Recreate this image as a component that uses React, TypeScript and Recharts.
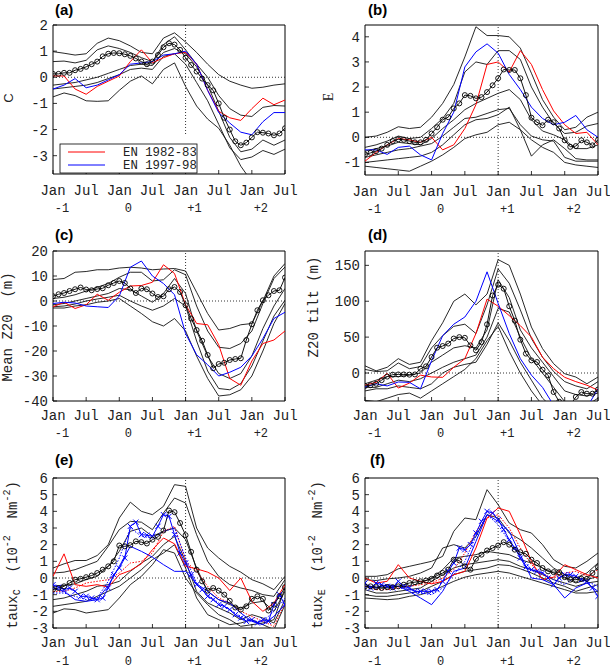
import React from "react";
import { LineChart, Line, XAxis, YAxis, ReferenceLine, ReferenceArea } from "recharts";

const MONO = "'Liberation Mono', 'DejaVu Sans Mono', monospace";
const SERIF = "'Liberation Serif', serif";
const SANS = "'Liberation Sans', Arial, sans-serif";

// x axis: months from Jan of year -1 (0) to Jul of year +2 (42)
const MONTHS = [0, 6, 12, 18, 24, 30, 36, 42];
const MONTH_LABELS = ["Jan", "Jul", "Jan", "Jul", "Jan", "Jul", "Jan", "Jul"];
const YEAR_LABELS = ["-1", "0", "+1", "+2"];

// ---------- (a) C ----------
// mean: monthly, others: every 2 months
const aMean = [0.13, 0.13, 0.17, 0.17, 0.27, 0.32, 0.4, 0.5, 0.6, 0.8, 0.9, 0.93, 0.92, 0.88, 0.82, 0.72, 0.6, 0.5, 0.6, 0.85, 1.15, 1.3, 1.25, 1.05, 0.75, 0.47, 0.22, -0.05, -0.3, -0.5, -1.0, -1.55, -2.0, -2.45, -2.6, -2.5, -2.3, -2.1, -2.12, -2.15, -2.22, -2.15, -1.95];
const aRed = [0.05, 0.05, -0.45, -0.65, -0.35, -0.15, 0.05, 0.6, 1.05, 0.55, 0.75, 0.9, 0.95, 0.5, -0.5, -1.3, -1.55, -1.65, -1.2, -0.8, -1.05, -0.87];
const aBlue = [-0.45, -0.3, -0.05, -0.4, -0.3, -0.1, 0.1, 0.5, 0.55, 0.6, 0.85, 0.9, 1.0, 0.5, -0.5, -1.35, -1.75, -2.1, -2.2, -1.7, -1.35, -1.35];
const aEnv = [
  [0.98, 0.92, 0.85, 0.9, 1.3, 1.5, 1.4, 1.2, 0.95, 0.9, 1.5, 1.7, 1.35, 0.95, 0.5, 0.1, -0.15, -0.3, -0.42, -0.38, -0.3, -0.25],
  [0.6, 0.62, 0.55, 0.65, 1.05, 1.2, 1.1, 0.95, 0.75, 0.6, 1.25, 1.55, 1.05, 0.5, 0.0, -0.7, -1.2, -1.45, -1.5, -1.15, -1.08, -1.1],
  [-0.3, -0.25, -0.2, -0.1, 0.0, 0.15, 0.3, 0.45, 0.5, 0.45, 0.95, 1.1, 0.9, 0.4, -0.3, -1.3, -2.3, -2.85, -2.75, -2.4, -2.6, -2.4],
  [-0.45, -0.4, -0.35, -0.3, -0.2, -0.05, 0.1, 0.3, 0.35, 0.3, 0.8, 0.9, 0.5, -0.2, -0.9, -1.8, -2.7, -3.15, -3.05, -2.8, -2.95, -2.75],
  [-0.75, -0.6, -0.7, -0.9, -0.92, -0.9, -0.5, -0.15, 0.05, -0.25, 0.3, 0.55, -0.35, -1.1, -1.6, -1.95, -2.6, -3.4, -4.0, -4.0, -3.9, -3.7],
];

// ---------- (b) E ----------
const bMean = [-0.68, -0.62, -0.55, -0.45, -0.3, -0.15, -0.08, -0.1, -0.15, -0.2, -0.2, -0.1, 0.15, 0.4, 0.7, 0.8, 1.15, 1.35, 1.68, 1.65, 1.55, 1.6, 1.8, 2.07, 2.35, 2.7, 2.68, 2.68, 2.35, 1.68, 0.78, 0.6, 0.48, 0.7, 0.6, 0.35, -0.12, -0.38, -0.35, -0.12, -0.2, -0.32, -0.1];
const bRed = [-0.95, -0.6, -0.3, -0.05, -0.1, -0.2, 0.0, -0.5, -0.3, 0.35, 1.3, 2.9, 3.0, 2.6, 3.45, 2.9, 1.9, 1.05, 0.5, 0.15, 0.2, -0.3];
const bBlue = [-0.5, -0.5, -0.68, -0.4, -0.35, -0.7, -0.9, 0.15, 1.0, 2.8, 3.4, 3.72, 3.35, 2.5, 1.9, 1.2, 0.75, 0.5, 0.6, 0.87, 0.3, 0.0];
const bEnv = [
  [0.0, 0.05, 0.2, 0.42, 0.35, 0.4, 0.8, 1.35, 2.1, 3.2, 4.4, 4.05, 4.05, 4.0, 3.55, 2.55, 1.5, 0.8, 0.3, 0.4, 0.8, 1.0],
  [-0.4, -0.3, -0.15, 0.05, -0.05, 0.0, 0.35, 0.75, 1.35, 2.6, 3.0, 2.9, 3.45, 3.45, 3.1, 2.0, 1.2, 0.55, 0.15, 0.2, 0.45, 0.55],
  [-0.55, -0.45, -0.35, -0.2, -0.25, -0.3, -0.05, 0.35, 0.7, 1.1, 1.35, 1.55, 1.75, 1.9, 1.5, 0.7, 0.25, 0.1, -0.1, -0.45, -0.45, -0.3],
  [-0.8, -0.7, -0.6, -0.5, -0.45, -0.35, -0.25, 0.05, 0.4, 0.75, 0.8, 0.95, 1.1, 1.15, 0.5, 0.05, -0.1, -0.15, -0.8, -0.95, -0.95, -0.95],
  [-1.0, -0.95, -0.9, -0.85, -0.8, -0.75, -0.6, -0.3, 0.1, 0.5, 0.7, 0.75, 0.9, 1.2, 0.3, -0.75, -0.3, -0.1, -0.45, -0.85, -0.9, -0.9],
  [-1.15, -1.2, -1.25, -1.3, -1.35, -1.15, -0.95, -0.7, -0.4, -0.05, 0.1, 0.2, 0.5, 0.6, 0.3, -0.1, -0.4, -0.6, -1.0, -1.1, -1.15, -1.2],
];

// ---------- (c) Mean Z20 ----------
const cMean = [1.9, 2.7, 3.2, 4.0, 4.7, 5.4, 4.6, 4.3, 4.8, 5.1, 6.3, 7.2, 8.0, 7.2, 5.0, 3.2, 5.0, 4.7, 3.0, 1.6, 1.9, 4.7, 5.6, 3.6, -1.7, -7.0, -11.6, -15.9, -21.6, -26.9, -25.2, -24.7, -23.6, -23.2, -22.9, -15.6, -9.3, -3.7, 0.3, 2.3, 4.0, 4.3, 9.4];
const cRed = [-2.3, -0.5, -3.0, -1.5, 2.7, 0.3, 3.5, 6.0, 6.2, 7.5, 14.5, 11.0, -1.5, -9.0, -9.5, -17.5, -31, -33.7, -24, -17, -15.6, -12];
const cBlue = [-1.0, -0.5, -0.8, -2.0, -2.3, -2.6, 2.0, 13.5, 16.0, 10.0, 7.0, 2.5, -13, -21.5, -25.5, -30, -28.5, -26.5, -22, -15, -7, -4.5];
const cEnv = [
  [8.6, 9.0, 11.5, 11.8, 12.5, 12.5, 13.2, 13.5, 13.2, 12.5, 12.8, 13.0, 12.0, 3.5, -5, -11.6, -11, -9.5, -9, 0, 10, 15],
  [1.0, 1.5, 2.5, 4.0, 5.5, 7.0, 9.5, 11.5, 11.5, 8.0, 8.5, 12.5, 10.5, -2, -12, -18.5, -19, -17, -12, -1, 9, 13.6],
  [-1.5, -1, 0, 1, 2, 3, 5, 4.5, 2, -0.5, 3, 9, 3, -12, -22, -29, -31, -29, -22, -11, -2, 5],
  [-2.3, -2, -1.2, 0, 0.8, 1.5, 2.3, 0, -2, -3.7, -2, 1, -2, -16, -28, -35, -35.5, -33, -26, -16, -6, 0.3],
  [-2.8, -2.8, -2, -1.5, -0.5, 0, 1, -2, -5, -8.3, -10, -7, -12, -22, -31, -38, -37.5, -35.5, -30, -20, -9, -1],
];

// ---------- (d) Z20 tilt ----------
const dMean = [-18, -17, -15, -10, -5, -2.3, -2, -2, -2.3, -2, 6, 9.3, 22.3, 35.3, 37.6, 41, 48, 50, 49, 38.5, 31.6, 43, 67.8, 108, 123, 117.5, 93, 73, 46.4, 27, 17.6, 15.3, 4.6, -3.3, -26.5, -40, -45, -45, -33.4, -26.5, -28.8, -28.8, -23];
const dRed = [-17, -13, -0.5, -21, -14, -3, -5.5, -6, 8, 20, 55, 103, 93, 80, 66, 50, 22, 6, -6, -12, -17, -24];
const dBlue = [-19.5, -15, -18, -12.5, -13, -22, 17, 52, 68, 78, 100, 141, 97, 55, 20, -3, -20, -45, -60, -60, -48, -22];
const dEnv = [
  [10, 3, 8, 20, 12, 15, 45, 70, 100, 110, 95, 110, 158, 150, 110, 64, 34, 13, -1, -5.6, -15, -5.6],
  [5, 2, 3, 14, 6, 9, 35, 52, 65, 68, 55, 95, 145, 125, 88, 48, 22, 2, -12, -18, -22, -12],
  [-15, -10, -5, -5, -3, 0, 15, 25, 35, 38, 35, 60, 130, 105, 60, 35, 15, -5, -25, -30, -32, -28],
  [-20, -20, -15, -10, -12, -8, 0, 8, 15, 20, 25, 50, 90, 85, 50, 20, 0, -20, -40, -45, -45, -35],
  [-25, -22, -22, -18, -20, -22, -15, 0, 8, 12, 15, 40, 70, 45, 15, -10, -35, -50, -55, -50, -45, -40],
  [-38, -40, -35, -30, -28, -35, -25, -15, -5, 5, 20, 45, 65, 30, 0, -25, -45, -60, -60, -55, -50, -45],
];

// ---------- (e) taux_C ----------
const eMean = [-0.7, -0.6, -0.5, -0.3, -0.1, -0.05, 0.05, 0.15, 0.3, 0.5, 0.7, 1.0, 1.95, 1.9, 1.97, 2.2, 2.15, 2.07, 2.3, 2.47, 2.85, 4.05, 3.95, 3.3, 2.57, 1.57, 0.5, -0.2, -0.76, -0.6, -0.76, -1.0, -1.37, -1.77, -1.9, -1.7, -1.25, -1.1, -1.25, -1.95, -1.6, -1.1, -0.55];
const eRed = [0.1, 1.45, -0.4, -0.5, -0.4, -0.55, 0.2, 0.45, 0.85, 1.7, 2.4, 2.05, 0.7, 0.55, 0.35, 0.0, -0.75, 0.0, -1.4, -2.0, -1.5, -0.4];
const eRedDot = [-0.8, -0.8, -0.6, -0.3, -0.2, -0.1, 0.3, 0.9, 1.0, 1.5, 2.8, 3.1, 1.0, 0.4, -0.5, -1.2, -1.5, -2.0, -2.3, -2.6, -2.9, -1.5];
const eBlue = [-0.6, -0.8, -1.3, -1.4, -1.3, -0.45, 0.7, 1.9, 1.6, 1.25, 0.8, 0.4, 0.4, -0.35, -0.8, -1.3, -1.5, -2.1, -2.6, -2.8, -2.3, -1.6];
const eBlueX = [-0.4, -0.55, -0.7, -0.6, -0.8, -1.1, -1.1, -1.2, -1.3, -1.2, -0.6, 0.2, 0.6, 1.2, 3.1, 3.35, 2.6, 2.57, 2.5, 3.1, 3.8, 3.7, 2.6, 1.5, 0.9, 0.2, -0.4, -0.7, -1.1, -1.3, -1.6, -1.7, -1.9, -2.2, -2.4, -2.6, -2.5, -2.7, -2.5, -2.6, -1.6, -1.0, -1.6];
const eBlueDot = [-0.9, -0.9, -1.1, -1.3, -1.2, -0.2, 1.2, 3.0, 2.5, 2.4, 2.8, 3.0, 1.2, -0.3, -1.0, -1.5, -1.9, -2.3, -2.6, -2.6, -2.0, -1.2];
const eEnv = [
  [0.6, 0.85, 1.05, 1.05, 1.35, 2.0, 3.6, 4.55, 4.0, 3.8, 4.3, 5.6, 5.5, 3.0, 1.8, 1.2, 0.7, 0.35, -0.1, -0.35, -0.7, 0.1],
  [0.3, 0.35, 0.5, 0.75, 1.0, 1.9, 2.9, 3.4, 3.35, 2.9, 3.9, 4.8, 4.5, 2.6, 1.0, 0.1, -0.4, -0.6, -0.75, -1.0, -1.1, -0.1],
  [-0.5, -0.45, -0.35, -0.1, 0.1, 0.7, 1.6, 2.8, 3.0, 2.5, 2.8, 3.0, 2.3, 0.6, -0.8, -1.3, -1.6, -1.8, -1.5, -1.4, -2.0, -0.8],
  [-1.3, -1.2, -1.0, -0.8, -0.5, -0.4, -0.2, 0.4, 0.9, 1.3, 2.0, 2.5, 1.0, -0.8, -1.5, -1.8, -2.1, -2.5, -2.2, -2.4, -2.7, -1.3],
  [-1.7, -1.6, -1.5, -1.4, -1.1, -0.8, -0.5, 0.0, 0.5, 1.1, 1.5, 2.0, 0.6, -1.2, -2.2, -2.5, -2.8, -2.7, -2.5, -2.8, -3.1, -1.6],
  [-2.1, -1.85, -1.9, -2.1, -2.0, -1.9, -1.2, -0.4, 0.1, 0.8, 1.7, 1.5, 0.0, -0.9, -1.6, -2.2, -2.5, -2.9, -2.8, -2.7, -2.5, -0.6],
];

// ---------- (f) taux_E ----------
const fMean = [-0.5, -0.5, -0.55, -0.6, -0.55, -0.55, -0.5, -0.4, -0.3, -0.25, -0.2, -0.15, -0.05, 0.15, 0.3, 0.5, 1.1, 1.05, 0.7, 0.5, 1.15, 1.4, 1.65, 1.8, 1.95, 2.15, 2.0, 1.7, 1.55, 1.45, 1.1, 0.9, 0.6, 0.4, 0.35, 0.35, 0.05, -0.1, -0.1, -0.05, -0.05, 0.3, 0.65];
const fRed = [0.0, -0.3, -0.2, 0.8, 0.0, -0.2, -0.35, -0.2, 0.2, 0.4, 1.8, 3.6, 4.2, 4.0, 2.6, 1.0, -0.1, 0.05, 0.8, 0.5, 0.2, 0.0];
const fRedDot = [-0.5, -0.7, -0.7, -0.6, -0.5, -0.4, -0.3, 0.0, 0.5, 1.5, 2.8, 3.6, 3.8, 3.0, 1.8, 0.8, 0.2, 0.0, 0.3, 0.4, 0.1, 0.5];
const fBlue = [-0.4, -0.6, -0.4, -0.5, -0.8, -1.2, -1.6, -0.8, 0.4, 0.6, 2.2, 3.8, 3.4, 2.8, 1.4, 0.0, -0.1, -0.4, -1.2, -0.6, -0.3, -0.8];
const fBlueX = [-0.3, -0.6, -0.3, -0.4, -0.5, -0.6, -0.2, -0.5, -0.6, -0.8, -0.8, -0.8, -0.8, -0.7, -0.2, 0.4, 0.9, 1.8, 1.7, 2.0, 2.7, 3.4, 4.0, 3.9, 3.5, 2.9, 2.3, 1.8, 1.2, 0.65, 0.5, 0.4, 0.3, 0.0, -0.4, 0.0, 0.2, 0.2, 0.1, -0.1, -0.2, -0.6, -1.1];
const fBlueDot = [-0.6, -0.5, -0.5, -0.5, -0.7, -0.9, -1.0, -0.6, 0.2, 1.0, 2.5, 3.8, 3.2, 2.2, 1.3, 0.5, 0.3, -0.1, -0.4, 0.1, -0.2, -0.5];
const fEnv = [
  [0.1, 0.1, 0.2, 0.55, 0.7, 0.85, 1.0, 1.3, 2.8, 3.6, 3.5, 5.3, 4.4, 3.3, 2.9, 2.7, 2.0, 1.1, 0.7, 0.6, 1.0, 1.5],
  [-0.1, -0.15, -0.05, 0.0, 0.1, 0.3, 0.6, 1.8, 2.0, 1.8, 2.5, 3.8, 3.6, 2.7, 2.3, 1.8, 1.2, 0.6, 0.2, 0.0, 0.3, 0.9],
  [-0.5, -0.6, -0.6, -0.5, -0.5, -0.3, 0.0, 0.5, 1.2, 1.3, 1.4, 1.6, 1.5, 1.4, 1.1, 0.9, 0.6, 0.3, 0.0, -0.3, -0.1, 0.1],
  [-0.7, -0.9, -0.9, -0.8, -0.7, -0.6, -0.2, 0.2, 0.6, 0.8, 0.9, 1.0, 1.1, 1.0, 0.7, 0.5, 0.2, -0.1, -0.3, -0.5, -0.3, -0.2],
  [-1.0, -1.1, -1.1, -1.0, -0.9, -0.8, -0.5, -0.2, 0.2, 0.4, 0.5, 0.6, 0.8, 0.75, 0.55, 0.3, 0.0, -0.3, -0.5, -0.8, -0.6, -0.4],
  [-1.2, -1.25, -1.3, -1.25, -1.1, -1.0, -0.8, -0.5, -0.2, 0.05, 0.2, 0.3, 0.4, 0.3, 0.1, -0.1, -0.3, -0.5, -0.7, -0.9, -0.9, -0.8],
];

type Kind = "env" | "red" | "redDot" | "blue" | "blueDot" | "blueX" | "mean";
type Series = { key: string; values: number[]; step: number; kind: Kind };

const AXIS_W = 40; // room reserved for the y tick labels
const AXIS_H = 30; // room reserved for the x tick labels

function makeRows(series: Series[]) {
  const rows: any[] = [];
  for (let m = 0; m <= 42; m++) {
    const row: any = { m };
    series.forEach((s) => {
      row[s.key] = m % s.step === 0 ? s.values[m / s.step] ?? null : null;
    });
    rows.push(row);
  }
  return rows;
}

const makeXTick = (dyMonth: number, dyYear: number) => (props: any) => {
  const { x, y, payload } = props;
  const i = MONTHS.indexOf(payload.value);
  return (
    <g>
      <line x1={x} x2={x} y1={y} y2={y - 4} stroke="#000" strokeWidth={0.8} />
      <text x={x} y={y + dyMonth} textAnchor="middle" fontFamily={MONO} fontSize={14} fill="#222">
        {MONTH_LABELS[i]}
      </text>
      {i % 2 === 0 && (
        <text x={x + 9} y={y + dyYear} textAnchor="middle" fontFamily={MONO} fontSize={12} fill="#222">
          {YEAR_LABELS[i / 2]}
        </text>
      )}
    </g>
  );
};

const YTick = (props: any) => {
  const { x, y, payload } = props;
  return (
    <g>
      <line x1={x} x2={x + 4} y1={y} y2={y} stroke="#000" strokeWidth={0.8} />
      <text x={x - 5} y={y + 5} textAnchor="end" fontFamily={MONO} fontSize={14} fill="#222">
        {payload.value}
      </text>
    </g>
  );
};

const crossDot = (p: any) => {
  const { cx, cy, index } = p;
  if (cx == null || cy == null) return <g key={`x-${index}`} />;
  const s = 2.6;
  return (
    <path
      key={`x-${index}`}
      d={`M${cx - s},${cy - s}L${cx + s},${cy + s}M${cx - s},${cy + s}L${cx + s},${cy - s}`}
      stroke="#0000ff"
      strokeWidth={1}
    />
  );
};

type PanelProps = {
  left: number;
  top: number;
  width: number;
  height: number;
  plot: { top: number; right: number; bottom: number; left: number };
  domain: [number, number];
  yTicks: number[];
  series: Series[];
  dyMonth: number;
  dyYear: number;
  vEnd?: number;
};

function Panel({ left, top, width, height, plot, domain, yTicks, series, dyMonth, dyYear, vEnd }: PanelProps) {
  const rows = makeRows(series);
  const margin = { top: plot.top, right: plot.right, bottom: plot.bottom - AXIS_H, left: plot.left - AXIS_W };
  return (
    <div style={{ position: "absolute", left, top }}>
      <LineChart width={width} height={height} data={rows} margin={margin}>
        <XAxis
          dataKey="m"
          type="number"
          domain={[0, 42]}
          ticks={MONTHS}
          interval={0}
          tick={makeXTick(dyMonth, dyYear)}
          tickLine={false}
          tickSize={0}
          tickMargin={0}
          axisLine={false}
          height={AXIS_H}
          allowDataOverflow
        />
        <YAxis
          type="number"
          domain={domain}
          ticks={yTicks}
          interval={0}
          tick={YTick}
          tickLine={false}
          tickSize={0}
          tickMargin={0}
          axisLine={false}
          width={AXIS_W}
          allowDataOverflow
        />
        <ReferenceLine y={0} stroke="#000" strokeWidth={0.8} strokeDasharray="1 2" />
        {vEnd !== undefined ? (
          <ReferenceLine
            segment={[
              { x: 24, y: domain[1] },
              { x: 24, y: vEnd },
            ]}
            stroke="#000"
            strokeWidth={0.8}
            strokeDasharray="1 2"
          />
        ) : (
          <ReferenceLine x={24} stroke="#000" strokeWidth={0.8} strokeDasharray="1 2" />
        )}
        {series.map((s) => {
          const color = s.kind.startsWith("red") ? "#ff0000" : s.kind.startsWith("blue") ? "#0000ff" : "#111";
          const dash = s.kind === "redDot" || s.kind === "blueDot" ? "1.5 1.5" : undefined;
          const dot =
            s.kind === "mean"
              ? { r: 2.5, fill: "none", stroke: "#000", strokeWidth: 0.9 }
              : s.kind === "blueX"
              ? crossDot
              : false;
          return (
            <Line
              key={s.key}
              dataKey={s.key}
              type="linear"
              stroke={color}
              strokeWidth={s.kind === "env" ? 0.9 : 1}
              strokeDasharray={dash}
              dot={dot as any}
              activeDot={false}
              connectNulls
              isAnimationActive={false}
            />
          );
        })}
        <ReferenceArea
          x1={0}
          x2={42}
          y1={domain[0]}
          y2={domain[1]}
          fill="none"
          fillOpacity={0}
          stroke="#000"
          strokeWidth={1}
          ifOverflow="visible"
        />
      </LineChart>
    </div>
  );
}

function buildSeries(env: number[][], mean: number[], red: number[], blue: number[], extra?: { redDot: number[]; blueDot: number[]; blueX: number[] }): Series[] {
  const list: Series[] = env.map((v, i) => ({ key: `env${i}`, values: v, step: 2, kind: "env" as Kind }));
  if (extra) {
    list.push({ key: "redDot", values: extra.redDot, step: 2, kind: "redDot" });
    list.push({ key: "blueDot", values: extra.blueDot, step: 2, kind: "blueDot" });
  }
  list.push({ key: "red", values: red, step: 2, kind: "red" });
  list.push({ key: "blue", values: blue, step: 2, kind: "blue" });
  if (extra) list.push({ key: "blueX", values: extra.blueX, step: 1, kind: "blueX" });
  list.push({ key: "mean", values: mean, step: 1, kind: "mean" });
  return list;
}

const tauLabel = (x: number, y: number, sub: string) => (
  <text
    transform={`translate(${x},${y}) rotate(-90)`}
    textAnchor="middle"
    dominantBaseline="central"
    fontFamily={MONO}
    fontSize={14}
    fill="#222"
    style={{ whiteSpace: "pre" }}
  >
    taux
    <tspan dy={4} fontSize={10}>{sub}</tspan>
    <tspan dy={-4}>{"  (10"}</tspan>
    <tspan dy={-6} fontSize={10}>-2</tspan>
    <tspan dy={6}>{"  Nm"}</tspan>
    <tspan dy={-6} fontSize={10}>-2</tspan>
    <tspan dy={6}>)</tspan>
  </text>
);

export default function App() {
  const lp = (top: number, bottom: number) => ({ top, right: 20, bottom, left: 53 });
  const rp = (top: number, bottom: number) => ({ top, right: 12, bottom, left: 60 });
  return (
    <div style={{ position: "absolute", left: 0, top: 0, width: 610, height: 668, background: "#fff", overflow: "hidden" }}>
      <Panel left={0} top={0} width={305} height={222} plot={lp(25, 48)} domain={[-3.7, 2]} yTicks={[-3, -2, -1, 0, 1, 2]} series={buildSeries(aEnv, aMean, aRed, aBlue)} dyMonth={21} dyYear={38} vEnd={-2.2} />
      <Panel left={305} top={0} width={305} height={222} plot={rp(25, 47)} domain={[-1.5, 4.47]} yTicks={[-1, 0, 1, 2, 3, 4]} series={buildSeries(bEnv, bMean, bRed, bBlue)} dyMonth={21} dyYear={38} />
      <Panel left={0} top={222} width={305} height={223} plot={lp(29, 44)} domain={[-40, 20]} yTicks={[-40, -30, -20, -10, 0, 10, 20]} series={buildSeries(cEnv, cMean, cRed, cBlue)} dyMonth={19} dyYear={36} />
      <Panel left={305} top={222} width={305} height={223} plot={rp(29, 44)} domain={[-39, 170]} yTicks={[0, 50, 100, 150]} series={buildSeries(dEnv, dMean, dRed, dBlue)} dyMonth={19} dyYear={36} />
      <Panel left={0} top={445} width={305} height={223} plot={lp(33, 40)} domain={[-3, 6]} yTicks={[-3, -2, -1, 0, 1, 2, 3, 4, 5, 6]} series={buildSeries(eEnv, eMean, eRed, eBlue, { redDot: eRedDot, blueDot: eBlueDot, blueX: eBlueX })} dyMonth={19} dyYear={37} />
      <Panel left={305} top={445} width={305} height={223} plot={rp(33, 40)} domain={[-3, 6]} yTicks={[-3, -2, -1, 0, 1, 2, 3, 4, 5, 6]} series={buildSeries(fEnv, fMean, fRed, fBlue, { redDot: fRedDot, blueDot: fBlueDot, blueX: fBlueX })} dyMonth={19} dyYear={37} />

      <svg width={610} height={668} style={{ position: "absolute", left: 0, top: 0, pointerEvents: "none" }}>
        {/* panel letters */}
        <g fontFamily={SANS} fontWeight="bold" fontSize={15} fill="#000">
          <text x={55} y={15}>(a)</text>
          <text x={368} y={15}>(b)</text>
          <text x={55} y={240}>(c)</text>
          <text x={368} y={240}>(d)</text>
          <text x={55} y={465}>(e)</text>
          <text x={370} y={465}>(f)</text>
        </g>
        {/* y labels */}
        <text transform="translate(8,98) rotate(-90)" textAnchor="middle" dominantBaseline="central" fontFamily={SANS} fontSize={13} fill="#222">C</text>
        <text transform="translate(328,97) rotate(-90)" textAnchor="middle" dominantBaseline="central" fontFamily={SERIF} fontSize={14} fill="#222">E</text>
        <text transform="translate(8,327) rotate(-90)" textAnchor="middle" dominantBaseline="central" fontFamily={MONO} fontSize={14} fill="#222" style={{ whiteSpace: "pre" }}>{"Mean Z20  (m)"}</text>
        <text transform="translate(314,307) rotate(-90)" textAnchor="middle" dominantBaseline="central" fontFamily={MONO} fontSize={14} fill="#222" style={{ whiteSpace: "pre" }}>{"Z20 tilt (m)"}</text>
        {tauLabel(13, 555, "C")}
        {tauLabel(318, 555, "E")}
        {/* legend of panel (a) */}
        <rect x={60} y={144} width={137} height={29} fill="#fff" stroke="#000" strokeWidth={0.8} />
        <line x1={68} x2={105} y1={152} y2={152} stroke="#ff0000" strokeWidth={1} />
        <line x1={68} x2={105} y1={165} y2={165} stroke="#0000ff" strokeWidth={1} />
        <text x={123} y={156} fontFamily={MONO} fontSize={12.3} fill="#222">EN 1982-83</text>
        <text x={123} y={169} fontFamily={MONO} fontSize={12.3} fill="#222">EN 1997-98</text>
      </svg>
    </div>
  );
}
